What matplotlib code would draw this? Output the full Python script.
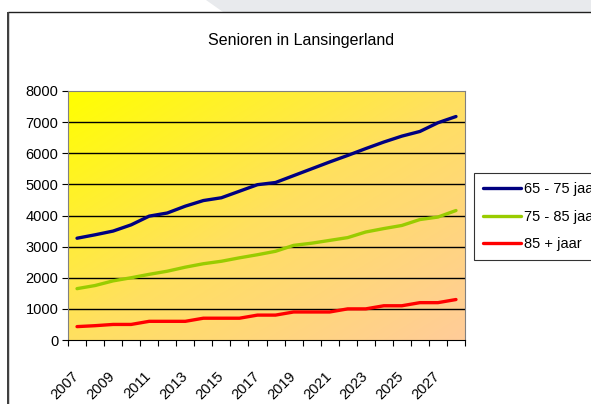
import numpy as np
import matplotlib
matplotlib.use("Agg")
import matplotlib.pyplot as plt
import matplotlib.transforms as mtransforms
from matplotlib.colors import LinearSegmentedColormap
from matplotlib.patches import Polygon, Rectangle

plt.rcParams['font.family'] = ['Liberation Sans', 'DejaVu Sans']

years = list(range(2007, 2029))
tick_years = [str(y) for y in years[::2]]
age_65_75 = [3270, 3380, 3500, 3700, 3980, 4080, 4300, 4480, 4570, 4780, 4990,
             5060, 5280, 5500, 5720, 5930, 6150, 6360, 6550, 6700, 6980, 7180]
age_75_85 = [1650, 1750, 1900, 2000, 2110, 2210, 2340, 2450, 2530, 2640, 2740,
             2850, 3040, 3110, 3200, 3290, 3470, 3580, 3680, 3870, 3950, 4160]
age_85_plus = [430, 460, 500, 500, 600, 600, 600, 700, 700, 700, 800,
               800, 900, 900, 900, 1000, 1000, 1100, 1100, 1200, 1200, 1300]
labels = ["65 - 75 jaar", "75 - 85 jaar", "85 + jaar"]
colors = ["#000080", "#99CC00", "#FF0000"]

fig = plt.figure(figsize=(5.91, 4.04), dpi=100)
W, H = 591, 404

# grey shape top right + chart frame
fig.patches.append(Polygon([(206 / W, 1), (1, 1), (1, 1 - 12 / H), (223 / W, 1 - 12 / H)],
                           closed=True, transform=fig.transFigure,
                           facecolor="#E8EAED", edgecolor="none", zorder=0))
fig.patches.append(Rectangle((8 / W, -0.1), 1.2, 1.1 - 12 / H, transform=fig.transFigure,
                             facecolor="white", edgecolor="#202020", linewidth=1.0, zorder=1))
fig.patches.append(Rectangle((7 / W, -0.1), 2 / W, 1.1 - 12 / H, transform=fig.transFigure,
                             facecolor="#404040", edgecolor="none", zorder=1))

ax = fig.add_axes([68 / W, 1 - 340 / H, (465 - 68) / W, (340 - 91) / H])
ax.set_zorder(3)
x = np.arange(len(years))

# diagonal gradient background
n = 200
gx, gy = np.meshgrid(np.linspace(0, 1, n), np.linspace(0, 1, n))
grad = (gx + gy) / 2
cmap = LinearSegmentedColormap.from_list("bg", ["#FFFF00", "#FFE060", "#FFCC99"])
ax.imshow(grad, cmap=cmap, extent=[0, 1, 0, 1], transform=ax.transAxes,
          aspect="auto", zorder=0)

ax.set_xlim(-0.5, len(years) - 0.5)
ax.set_ylim(0, 8000)
ax.set_yticks(range(0, 8001, 1000))
for yv in range(1000, 8000, 1000):
    ax.axhline(yv, color="black", linewidth=1.0, zorder=1)

for vals, lab, c in zip([age_65_75, age_75_85, age_85_plus], labels, colors):
    ax.plot(x, vals, color=c, linewidth=2.4, label=lab, zorder=3,
            solid_capstyle="round", solid_joinstyle="round")

ax.set_xticks(np.arange(-0.5, len(years), 1.0))
ax.set_xticklabels([])
ax.set_xticks(x[::2], minor=True)
ax.set_xticklabels(tick_years, minor=True, rotation=45, ha="right",
                   rotation_mode="anchor", fontsize=10.5)
ax.tick_params(axis="x", which="minor", length=0, pad=21)
ax.tick_params(axis="x", which="major", length=4, direction="out", color="black")
ax.tick_params(axis="y", length=4, direction="out", labelsize=10.5, color="black", pad=3)
shift = mtransforms.ScaledTranslation(-5 / 100, 0, fig.dpi_scale_trans)
for lbl in ax.get_xticklabels(minor=True):
    lbl.set_transform(lbl.get_transform() + shift)

for side in ["top", "right", "left"]:
    ax.spines[side].set_color("#808080")
ax.spines["bottom"].set_color("black")

fig.text(301 / W, 1 - 40 / H, "Senioren in Lansingerland", ha="center", va="center",
         fontsize=11.5, zorder=3)

leg = fig.legend(loc="upper left", bbox_to_anchor=(474 / W, 1 - 173 / H),
                 frameon=True, fancybox=False, fontsize=10.5, handlelength=2.6,
                 borderpad=0.6, labelspacing=0.95, handletextpad=0.2,
                 borderaxespad=0)
leg.set_zorder(4)
leg.get_frame().set_edgecolor("black")
leg.get_frame().set_linewidth(0.8)

fig.savefig("out.png", dpi=100)
